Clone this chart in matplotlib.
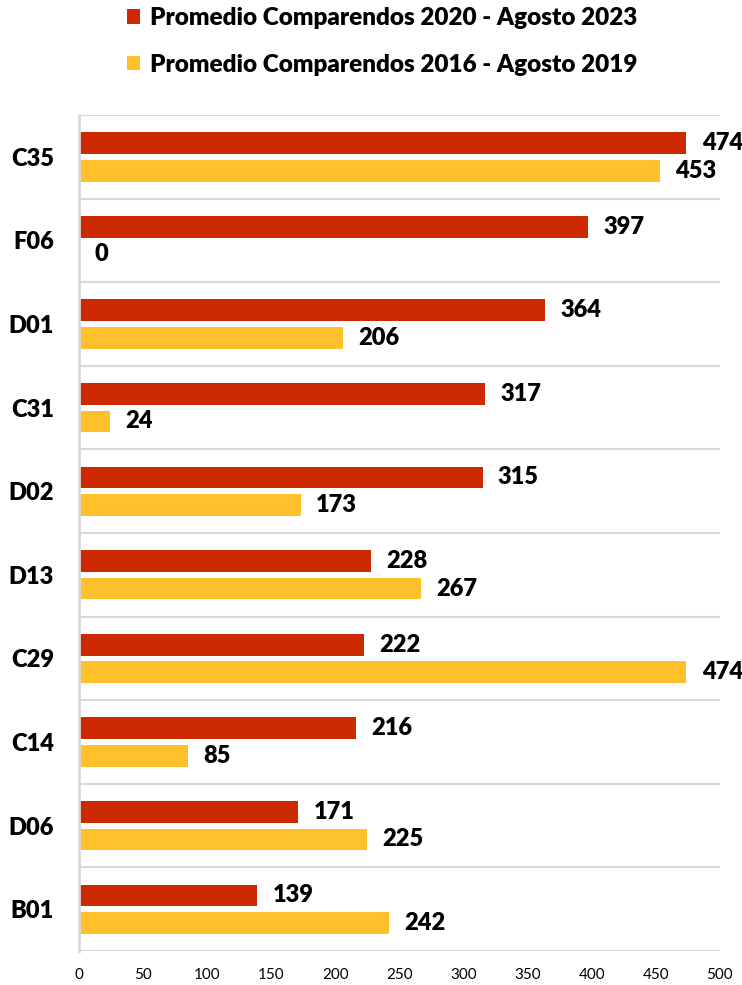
#---------import---------#
import numpy as np
import matplotlib
matplotlib.use('Agg')
import matplotlib.pyplot as plt
#------------------------#


#----------Data----------#
categorias = ['C35', 'F06', 'D01', 'C31', 'D02', 'D13', 'C29', 'C14', 'D06', 'B01']
prom_2020_2023 = [474, 397, 364, 317, 315, 228, 222, 216, 171, 139]
prom_2016_2019 = [453, 0, 206, 24, 173, 267, 474, 85, 225, 242]
serie_2020 = 'Promedio Comparendos 2020 - Agosto 2023'
serie_2016 = 'Promedio Comparendos 2016 - Agosto 2019'
x_ticks = [0, 50, 100, 150, 200, 250, 300, 350, 400, 450, 500]
#------------------------#


#------Setting_font------#
plt.rcParams['font.family'] = ['Lato', 'DejaVu Sans']
#------------------------#

rojo = '#CC2900'
amarillo = '#FFC12B'
gris = '#D9D9D9'
peso = 'heavy'

fig = plt.figure(figsize=(7.42, 9.85), dpi=100)
ax = fig.add_axes([0.1065, 0.0345, 0.8635, 0.8487])

y = np.arange(len(categorias))
alto = 0.26
b1 = ax.barh(y - 0.165, prom_2020_2023, height=alto, color=rojo, label=serie_2020)
b2 = ax.barh(y + 0.165, prom_2016_2019, height=alto, color=amarillo, label=serie_2016)

# etiquetas de valores
for barras in (b1, b2):
    for b in barras:
        ax.annotate(str(int(b.get_width())),
                    xy=(b.get_width(), b.get_y() + b.get_height() / 2),
                    xytext=(11, 0), textcoords='offset points',
                    ha='left', va='center', fontsize=17, fontweight=peso,
                    annotation_clip=False)

# lineas de separacion entre categorias
for i in range(len(categorias) + 1):
    ax.axhline(i - 0.5, color=gris, lw=1.5, zorder=0)

ax.set_ylim(len(categorias) - 0.5, -0.5)
ax.set_xlim(0, 500)
ax.set_yticks(y)
ax.set_yticklabels(categorias, fontsize=17, fontweight=peso)
ax.set_xticks(x_ticks)
ax.tick_params(axis='x', length=0, labelsize=11, pad=12)
ax.tick_params(axis='y', length=0, pad=18)

for s in ['top', 'right', 'bottom']:
    ax.spines[s].set_visible(False)
ax.spines['left'].set_color(gris)
ax.spines['left'].set_linewidth(2)

fig.legend(handles=[b1, b2], loc='upper center', bbox_to_anchor=(0.515, 1.0),
           frameon=False, prop={'size': 17.5, 'weight': peso},
           handlelength=0.55, handleheight=0.55, handletextpad=0.4,
           labelspacing=1.0, borderaxespad=0.0, borderpad=0.3)

fig.savefig('out.png', dpi=100)
